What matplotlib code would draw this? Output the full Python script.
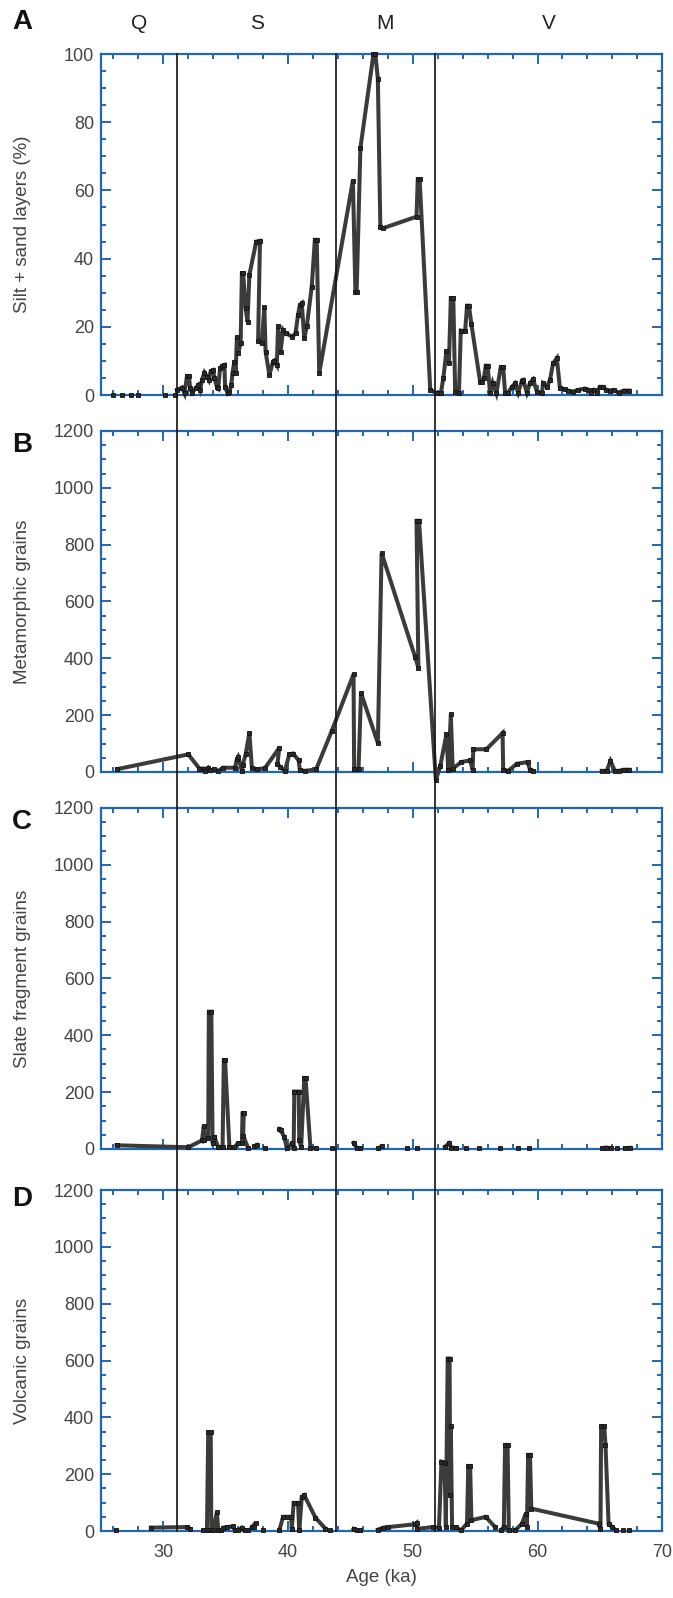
import matplotlib
matplotlib.use('Agg')
import matplotlib.pyplot as plt
import numpy as np
from matplotlib.lines import Line2D
from matplotlib.transforms import blended_transform_factory
from matplotlib.ticker import MultipleLocator

nan = np.nan

# Panel A: silt + sand layers (%)
a_age = [26.0, nan, 26.7, nan, 27.4, nan, 28.0, nan, 30.1, nan, 30.9, nan,
         31.1, 31.5, 31.7, 31.9, 32.05, 32.15, 32.3, 32.6, 32.8, 32.95, 33.1, 33.3,
         33.5, 33.65, 33.8, 34.0, 34.1, 34.3, 34.4, 34.55, 34.7, 34.9, 34.95, 35.15,
         35.3, 35.45, 35.55, 35.7, 35.8, 35.9, 36.0, 36.2, 36.3, 36.4, 36.6, 36.75,
         36.9, 37.45, 37.75, 37.6, 37.9, 38.1, 38.2, 38.5, 38.8, 38.9, 39.1, 39.2,
         39.4, 39.6, 39.8, 40.35, 40.6, 40.8, 40.95, 41.1, 41.3, 41.5, 41.9, 42.15,
         42.3, 42.5, 45.2, 45.4, 45.5, 45.8, 46.85, 47.0, 47.2, 47.4, 47.6, 50.3,
         50.4, 50.55, 51.4, 51.95, 52.25, 52.45, 52.7, 52.9, 53.05, 53.25, 53.4,
         53.7, 53.85, 54.2, 54.35, 54.5, 54.7, 55.4, 55.55, 55.7, 55.85, 56.0, 56.2,
         56.4, 56.7, 57.05, 57.25, 57.4, 57.65, 57.95, 58.2, 58.45, 58.75, 58.85,
         59.15, 59.4, 59.65, 59.95, 60.35, 60.45, 60.75, 61.0, 61.25, 61.55, 61.8,
         62.2, 62.45, 62.85, 63.25, 63.8, 64.1, 64.25, 64.5, 64.75, 65.0, 65.25,
         65.5, 65.8, 66.1, 66.5, 66.9, 67.35]
a_val = [0, nan, 0, nan, 0, nan, 0, nan, 0, nan, 0, nan,
         1.5, 2.2, 0.5, 5.6, 5.6, 2.0, 0.7, 2.0, 2.9, 1.5, 4.4, 6.6,
         5.4, 4.4, 7.0, 7.3, 4.9, 2.4, 2.0, 7.8, 8.5, 8.8, 2.4, 0.5,
         1.0, 2.9, 6.6, 9.8, 6.4, 17.1, 12.2, 15.2, 35.7, 35.7, 25.4, 21.5,
         35.2, 45.0, 45.2, 15.7, 15.2, 25.9, 12.7, 5.9, 9.8, 10.1, 8.8, 20.1,
         12.7, 19.1, 18.1, 17.1, 18.1, 23.5, 26.4, 26.9, 16.6, 20.1, 31.8, 45.5,
         45.5, 6.4, 62.9, 30.3, 30.3, 72.4, 100, 100, 92.7, 49.4, 48.9, 52.3,
         63.3, 63.3, 1.5, 0.5, 0.5, 4.9, 13.0, 9.5, 28.4, 28.4, 0.8,
         0.5, 18.9, 18.7, 26.2, 26.2, 20.8, 3.9, 3.9, 4.9, 8.6, 8.6, 0.5,
         3.6, 0.5, 8.1, 8.1, 0.7, 0.7, 2.4, 3.4, 0.7, 4.2, 4.4,
         0.7, 3.6, 4.6, 1.0, 0.5, 3.4, 2.4, 4.4, 9.3, 10.8, 2.0,
         1.7, 1.3, 1.0, 1.5, 1.9, 1.5, 0.7, 1.5, 0.7, 2.4, 2.4,
         1.5, 1.3, 1.5, 0.7, 1.3, 1.3]

# Panel B: metamorphic grains
b_age = [26.3, 32.0, 32.9, 33.25, 33.35, 33.6, 33.75, 34.1, 34.4, 34.8, 35.75,
         35.9, 36.0, 36.3, 36.35, 36.6, 36.9, 37.1, 37.5, 38.15, 39.3, 39.15,
         39.35, 39.75, 40.1, 40.4, 40.85, 40.95, 41.35, 42.25, 43.5, 45.25, 45.3,
         45.65, 45.85, 47.2, 47.5, 50.2, 50.45, 50.3, 50.5, 51.85, 52.2, 52.7,
         52.85, 53.05, 53.2, 53.9, 54.6, 54.8, 54.85, 55.9, 57.2, 57.25, 57.65,
         58.35, 59.2, 59.4, 59.65, nan, 65.15, 65.55, 65.85, 66.2, 66.5, 66.9,
         67.35]
b_val = [10, 62, 12, 12, 4, 15, 6, 9, 4, 15, 15,
         45, 53, 4, 23, 62, 137, 15, 9, 14, 85, 29,
         18, 4, 62, 65, 41, 6, 4, 9, 144, 344, 9,
         9, 278, 102, 771, 403, 367, 884, 884, -28, 20, 133,
         6, 203, 12, 35, 41, 8, 80, 80, 137, 8, 4,
         29, 35, 8, 4, nan, 4, 4, 39, 4, 4, 8,
         8]

# Panel C: slate fragment grains
c_age = [26.25, 32.0, 33.1, 33.25, 33.3, 33.6, 33.65, 33.85, 33.95, 34.05, 34.1,
         34.4, 34.75, 34.85, 34.95, 35.3, 35.7, 36.0, 36.3, 36.35, 36.45, 36.4,
         36.8, nan, 37.3, 37.5, nan, 38.15, nan, 39.3, 39.4, 39.7, 39.9, 40.35,
         40.45, 40.5, 40.85, 40.9, 41.05, 41.3, 41.4, 41.8, 42.25, nan, 43.5, nan,
         45.25, 45.5, 45.8, nan, 47.25, 47.5, nan, 49.5, nan, 50.3, nan, 52.6,
         52.9, 53.1, 53.5, nan, 54.3, nan, 55.3, nan, 57.0, nan, 58.4, nan, 59.3,
         nan, 65.2, 65.5, 65.9, nan, 66.4, nan, 67.0, 67.4]
c_val = [13, 6, 30, 82, 30, 40, 483, 483, 20, 42, 42,
         6, 6, 313, 313, 6, 6, 21, 21, 125, 125, 47,
         3, nan, 9, 14, nan, 3, nan, 70, 68, 42, 3, 21,
         3, 202, 202, 31, 6, 250, 250, 3, 3, nan, 2, nan,
         21, 4, 2, nan, 2, 9, nan, 3, nan, 5, nan, 8,
         20, 5, 3, nan, 3, nan, 2, nan, 3, nan, 3, nan, 5,
         nan, 3, 5, 3, nan, 5, nan, 3, 4]

# Panel D: volcanic grains
d_age = [26.2, nan, 29.0, 31.9, 32.15, nan, 33.2, 33.5, 33.6, 33.8, 33.85, 34.0,
         34.3, 34.4, 34.65, 34.8, 35.1, 35.6, 35.75, 36.0, 36.3, 36.55, 36.8, nan,
         37.1, 37.4, 37.3, nan, 38.0, nan, 39.3, 39.6, 39.9, 40.25, 40.3, 40.45,
         40.8, 40.9, 41.1, 41.3, 42.2, 43.0, nan, 43.4, nan, 45.25, 45.5, 45.8, nan,
         47.2, 47.65, 48.05, 50.2, 50.3, 50.35, 51.65, 52.1, 52.3, 52.55, 52.65,
         52.8, 52.95, 53.0, 53.05, 53.15, 53.45, 53.85, 54.35, 54.45, 54.6, 54.7,
         55.85, 56.6, nan, 57.05, 57.3, 57.4, 57.6, 57.7, 58.2, 58.75, 59.05, 59.15,
         59.25, 59.4, 59.5, 64.9, 65.05, 65.1, 65.35, 65.45, 65.7, 66.0, 66.3, nan,
         66.85, nan, 67.3]
d_val = [2, nan, 12, 14, 8, nan, 2, 2, 347, 347, 2, 2,
         67, 2, 2, 12, 14, 16, 2, 2, 12, 2, 2, nan,
         14, 28, 15, nan, 2, nan, 2, 50, 50, 50, 8, 99,
         99, 2, 120, 126, 47, 8, nan, 2, nan, 8, 2, 2, nan,
         5, 12, 14, 24, 28, 8, 14, 12, 244, 241, 14,
         607, 607, 126, 368, 14, 14, 2, 26, 229, 229, 38,
         50, 14, nan, 2, 14, 303, 303, 2, 2, 26, 61, 14,
         268, 268, 79, 26, 8, 368, 368, 303, 24, 14, 2, nan,
         2, nan, 2]

ylabels = ['Silt + sand layers (%)', 'Metamorphic grains',
           'Slate fragment grains', 'Volcanic grains']
letters = ['A', 'B', 'C', 'D']
boundaries = [31.1, 43.85, 51.75]
zones = ['Q', 'S', 'M', 'V']
zone_x = [28.05, 37.5, 47.8, 60.9]

plt.rcParams['font.family'] = ['Liberation Sans', 'DejaVu Sans']
blue = '#2166b4'
gray = '#444444'
linec = '#3b3c38'

fig = plt.figure(figsize=(6.73, 15.98), dpi=100)
left, width = 0.150, 0.834
bottoms = [0.7528, 0.5169, 0.2810, 0.0419]
h = 0.2134

axes = []
data = [(a_age, a_val), (b_age, b_val), (c_age, c_val), (d_age, d_val)]
for i, (xs, ys) in enumerate(data):
    ax = fig.add_axes([left, bottoms[i], width, h])
    ax.plot(xs, ys, color=linec, lw=2.9, solid_joinstyle='miter',
            marker='s', ms=2.6, mfc='#2a2a2a', mec='#111111', mew=0.6,
            clip_on=False, zorder=3)
    ax.set_xlim(25, 70)
    if i == 0:
        ax.set_ylim(0, 100)
        ax.yaxis.set_major_locator(MultipleLocator(20))
        ax.yaxis.set_minor_locator(MultipleLocator(5))
    else:
        ax.set_ylim(0, 1200)
        ax.yaxis.set_major_locator(MultipleLocator(200))
        ax.yaxis.set_minor_locator(MultipleLocator(50))
    ax.xaxis.set_major_locator(MultipleLocator(10))
    ax.xaxis.set_minor_locator(MultipleLocator(2))
    for s in ax.spines.values():
        s.set_color(blue)
        s.set_linewidth(1.6)
    ax.tick_params(which='both', direction='in', color=blue, top=True, right=True,
                   labelcolor=gray, labelsize=13, width=1.4)
    ax.tick_params(which='major', length=7, pad=5)
    ax.tick_params(which='minor', length=3.5)
    ax.tick_params(axis='x', which='major', pad=9)
    if i < 3:
        ax.tick_params(labelbottom=False)
    ax.set_ylabel(ylabels[i], fontsize=13.5, color=gray)
    ax.yaxis.set_label_coords(-0.125, 0.5)
    axes.append(ax)

axes[3].set_xlabel('Age (ka)', fontsize=13.5, color=gray, labelpad=6)

# zone boundaries spanning all panels
tr = blended_transform_factory(axes[3].transData, fig.transFigure)
for b in boundaries:
    fig.add_artist(Line2D([b, b], [bottoms[3], bottoms[0] + h], transform=tr,
                          color='#111111', lw=1.2, zorder=5))
for z, zx in zip(zones, zone_x):
    fig.text(zx, 0.985, z, transform=tr, ha='center', va='center',
             fontsize=15, color='#222222')

letter_y = [0.986, 0.7215, 0.4857, 0.2498]
for l, ly in zip(letters, letter_y):
    fig.text(0.033, ly, l, ha='center', va='center', fontsize=20,
             fontweight='bold', color='#111111')

fig.savefig('out.png', dpi=100)
